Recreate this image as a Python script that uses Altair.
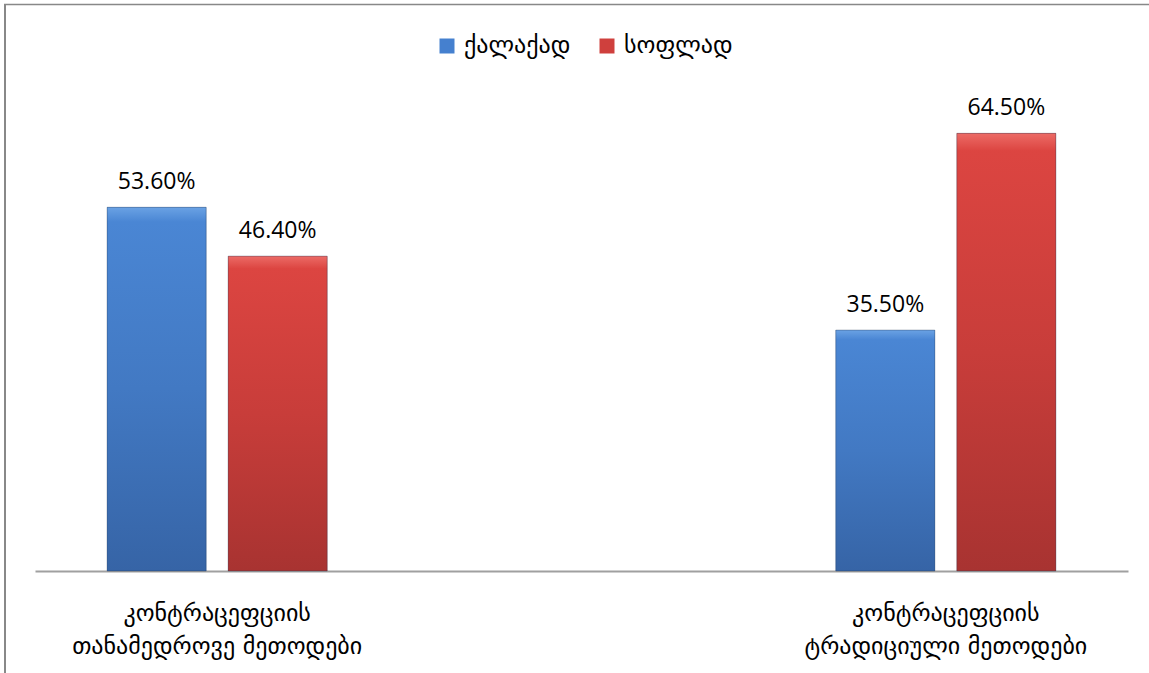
import altair as alt
import pandas as pd

categories = ["კონტრაცეფციის\nთანამედროვე მეთოდები", "კონტრაცეფციის\nტრადიციული მეთოდები"]
series = ["ქალაქად", "სოფლად"]
city_values = [53.6, 35.5]
village_values = [46.4, 64.5]

rows = []
for i, c in enumerate(categories):
    rows.append({"category": c, "series": series[0], "value": city_values[i], "label": f"{city_values[i]:.2f}%"})
    rows.append({"category": c, "series": series[1], "value": village_values[i], "label": f"{village_values[i]:.2f}%"})
df = pd.DataFrame(rows)

blue_grad = alt.LinearGradient(
    gradient="linear", x1=0, y1=0, x2=0, y2=1,
    stops=[alt.GradientStop(color="#6aa2e4", offset=0),
           alt.GradientStop(color="#4a86d4", offset=0.04),
           alt.GradientStop(color="#4279c3", offset=0.5),
           alt.GradientStop(color="#3664a6", offset=1)])
red_grad = alt.LinearGradient(
    gradient="linear", x1=0, y1=0, x2=0, y2=1,
    stops=[alt.GradientStop(color="#ec6b66", offset=0),
           alt.GradientStop(color="#dc4541", offset=0.04),
           alt.GradientStop(color="#c83d3a", offset=0.5),
           alt.GradientStop(color="#a83331", offset=1)])

x_enc = alt.X("category:N", sort=categories,
              scale=alt.Scale(paddingInner=0.5, paddingOuter=0.0),
              axis=alt.Axis(title=None, labelAngle=0, ticks=False, domainColor="#a0a0a0",
                            domainWidth=2, labelFontSize=24, labelFont="DejaVu Sans",
                            labelColor="#000000", labelPadding=30, labelLineHeight=33,
                            labelLimit=600,
                            labelExpr="split(datum.label, '\\n')", labelBaseline="top"))
xo_enc = alt.XOffset("series:N", sort=series, scale=alt.Scale(paddingInner=0.1818, paddingOuter=0.596))
y_enc = alt.Y("value:Q", scale=alt.Scale(domain=[0, 70]), axis=None)

base = alt.Chart(df)

bars = base.mark_bar().encode(
    x=x_enc, xOffset=xo_enc, y=y_enc,
    color=alt.Color("series:N", sort=series,
                    scale=alt.Scale(domain=series, range=["#4580cf", "#cf403d"]),
                    legend=alt.Legend(title=None, orient="none", direction="horizontal",
                                      legendX=400, legendY=-62, symbolType="square",
                                      symbolSize=225, symbolStrokeWidth=0,
                                      labelFontSize=24, labelFont="DejaVu Sans", labelLimit=300,
                                      labelColor="#000000", columnPadding=24, labelOffset=5)),
)

grad_bars = base.mark_bar(stroke="#1f3550", strokeOpacity=0.35, strokeWidth=1).encode(
    x=x_enc, xOffset=xo_enc, y=y_enc,
    fill=alt.condition(alt.datum.series == series[0], alt.value(blue_grad), alt.value(red_grad)),
)

labels = base.mark_text(baseline="bottom", dy=-13, fontSize=23, font="Open Sans", color="#000000").encode(
    x=x_enc, xOffset=xo_enc, y=y_enc, text="label:N"
)

top_border = alt.Chart(pd.DataFrame({"a": [0]})).mark_rule(color="#888888", strokeWidth=1.5).encode(
    x=alt.value(-31), x2=alt.value(1130), y=alt.value(-91.5)
)
left_border = alt.Chart(pd.DataFrame({"a": [0]})).mark_rule(color="#888888", strokeWidth=2).encode(
    x=alt.value(-30), y=alt.value(-92), y2=alt.value(590)
)

chart = alt.layer(bars, grad_bars, labels, top_border, left_border).properties(
    width=1093, height=475,
    background="#ffffff",
    autosize=alt.AutoSizeParams(type="none"),
    padding={"left": 35, "top": 96, "right": 21, "bottom": 102},
).configure_view(strokeWidth=0, stroke="transparent")

chart.save("out.html", embed_options={"renderer": "svg", "actions": False})
